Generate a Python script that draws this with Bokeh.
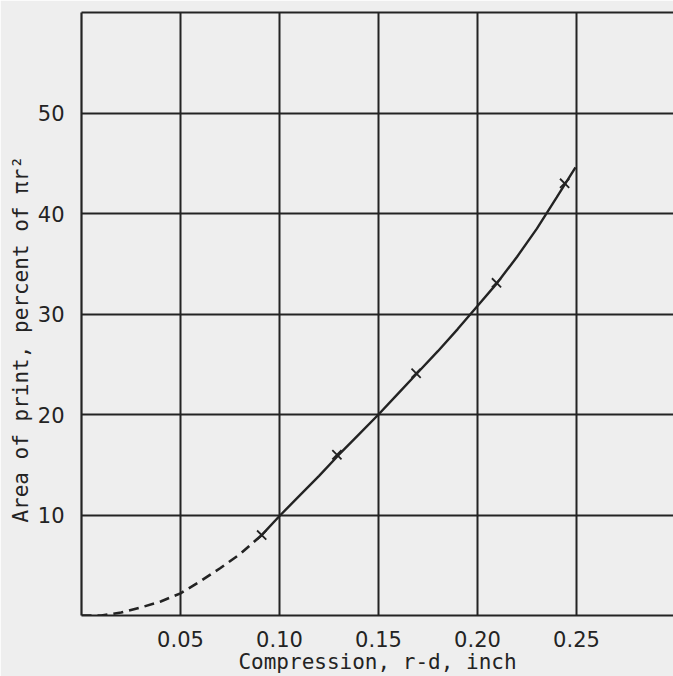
import numpy as np
from bokeh.plotting import figure
from bokeh.models import Range1d, FixedTicker, LinearAxis
from bokeh.embed import file_html
from bokeh.resources import INLINE

# Data
x_ticks = [0.05, 0.10, 0.15, 0.20, 0.25]
x_tick_labels = ["0.05", "0.10", "0.15", "0.20", "0.25"]
y_ticks = [10, 20, 30, 40, 50]
y_tick_labels = ["10", "20", "30", "40", "50"]

# measured points (x marks)
pts_x = [0.091, 0.129, 0.169, 0.2096, 0.244]
pts_y = [8.0, 16.0, 24.1, 33.1, 43.0]

# extrapolated (dashed) part of the curve
dash_x = [0.0, 0.010, 0.020, 0.030, 0.040, 0.050, 0.060, 0.070, 0.080, 0.091]
dash_y = [0.0, 0.0, 0.3, 0.8, 1.4, 2.2, 3.4, 4.7, 6.1, 8.0]

# solid part of the curve
solid_x = [0.091, 0.100, 0.110, 0.120, 0.130, 0.140, 0.150, 0.160, 0.170,
           0.180, 0.190, 0.200, 0.210, 0.220, 0.230, 0.240, 0.2495]
solid_y = [8.0, 9.9, 11.9, 13.9, 16.0, 18.0, 20.0, 22.1, 24.2,
           26.3, 28.5, 30.8, 33.1, 35.7, 38.5, 41.6, 44.6]

x_title = "Compression, r-d, inch"
y_title = "Area of print, percent of \u03c0r\u00b2"
# non-breaking padding at the end shifts the rotated title's centre downwards
y_title_padded = y_title + "\u00a0" * 4

INK = "#232323"
BG = "#eeeeee"
FONT = "DejaVu Sans"
TITLE_FONT = "DejaVu Sans Mono"

p = figure(width=673, height=676, output_backend="svg", toolbar_location=None,
           x_range=Range1d(0, 0.299), y_range=Range1d(0, 60),
           min_border_left=81, min_border_right=0, min_border_top=12,
           min_border_bottom=61, background_fill_color=BG, border_fill_color=BG,
           outline_line_color=None)

# axes
for ax in [p.xaxis[0], p.yaxis[0]]:
    ax.axis_line_color = INK
    ax.axis_line_width = 2.2
    ax.major_tick_line_color = None
    ax.minor_tick_line_color = None
    ax.major_label_text_font = FONT
    ax.major_label_text_font_size = "21px"
    ax.major_label_text_color = INK
    ax.axis_label_text_font = TITLE_FONT
    ax.axis_label_text_font_size = "21px"
    ax.axis_label_text_font_style = "normal"
    ax.axis_label_text_color = INK

p.xaxis[0].ticker = FixedTicker(ticks=x_ticks)
p.xaxis[0].major_label_overrides = {t: l for t, l in zip(x_ticks, x_tick_labels)}
p.xaxis[0].major_label_standoff = 9
p.xaxis[0].axis_label = x_title
p.xaxis[0].axis_label_standoff = 0
p.yaxis[0].ticker = FixedTicker(ticks=y_ticks)
p.yaxis[0].major_label_overrides = {t: l for t, l in zip(y_ticks, y_tick_labels)}
p.yaxis[0].major_label_standoff = 11
p.yaxis[0].axis_label = y_title_padded
p.yaxis[0].axis_label_standoff = 2

top = LinearAxis(ticker=FixedTicker(ticks=[]), axis_line_color=INK, axis_line_width=2.2,
                 major_tick_line_color=None, minor_tick_line_color=None,
                 major_label_text_font_size="0px")
p.add_layout(top, "above")

# grid
p.xgrid.ticker = FixedTicker(ticks=x_ticks)
p.ygrid.ticker = FixedTicker(ticks=y_ticks)
for g in [p.xgrid[0], p.ygrid[0]]:
    g.grid_line_color = INK
    g.grid_line_width = 2
    g.grid_line_alpha = 1.0

# curve
p.line(dash_x, dash_y, line_color=INK, line_width=2.6, line_dash="10 6")
p.line(solid_x, solid_y, line_color=INK, line_width=2.4)
p.scatter(pts_x, pts_y, marker="x", size=13, line_color=INK, line_width=1.8)

open("out.html", "w").write(file_html(p, INLINE))
